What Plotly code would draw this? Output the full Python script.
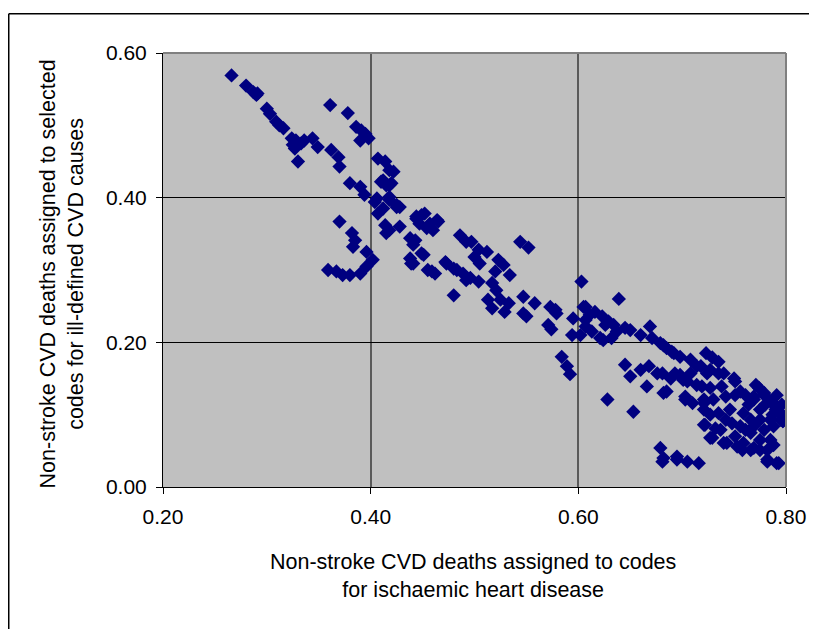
import plotly.graph_objects as go

# Non-stroke CVD deaths assigned to codes for ischaemic heart disease (x)
ihd_share = [
    0.266, 0.280, 0.287, 0.290, 0.291, 0.300, 0.303, 0.309, 0.312, 0.316,
    0.328, 0.327, 0.330, 0.336, 0.344, 0.349, 0.362, 0.369, 0.370, 0.324,
    0.325, 0.333,
    0.361, 0.378, 0.386, 0.391, 0.398, 0.390, 0.407, 0.414, 0.422, 0.410,
    0.418, 0.380, 0.390, 0.394, 0.406, 0.418, 0.418, 0.412, 0.404, 0.428,
    0.425, 0.395,
    0.420, 0.415, 0.418, 0.425, 0.407, 0.412, 0.370, 0.382, 0.385, 0.383,
    0.396, 0.402, 0.396, 0.390, 0.380, 0.373, 0.367, 0.359, 0.414, 0.418,
    0.428, 0.415, 0.438, 0.441, 0.438, 0.439, 0.451, 0.455, 0.462, 0.444,
    0.452, 0.464, 0.454, 0.447, 0.486, 0.492, 0.473, 0.483, 0.492,
    0.449, 0.457, 0.465, 0.460, 0.444, 0.443, 0.449, 0.441, 0.459, 0.497,
    0.504, 0.512, 0.500, 0.505, 0.472, 0.480, 0.489, 0.496, 0.504, 0.523,
    0.528, 0.520, 0.534, 0.517, 0.521, 0.513, 0.525, 0.533, 0.517, 0.529,
    0.547, 0.558, 0.550, 0.547, 0.573, 0.579, 0.595, 0.571, 0.480, 0.544,
    0.552, 0.603, 0.605, 0.607,
    0.584, 0.589, 0.592, 0.628, 0.653, 0.639, 0.578, 0.574, 0.594,
    0.607, 0.611, 0.623, 0.629, 0.634, 0.645, 0.650, 0.660, 0.669, 0.671,
    0.679, 0.685, 0.692, 0.698, 0.613, 0.602, 0.621, 0.624, 0.632, 0.637,
    0.645, 0.650, 0.660, 0.668, 0.676, 0.666, 0.682, 0.689, 0.698, 0.705,
    0.718, 0.703, 0.719, 0.721, 0.722, 0.679, 0.681, 0.695, 0.705, 0.716,
    0.616, 0.626, 0.607,
    0.682, 0.690, 0.681, 0.685, 0.693, 0.701, 0.708, 0.724, 0.735, 0.703,
    0.710, 0.714, 0.727, 0.738, 0.751, 0.756, 0.721, 0.730, 0.742, 0.721,
    0.727, 0.735, 0.746, 0.759, 0.769, 0.779, 0.788, 0.775, 0.787, 0.795,
    0.797, 0.721, 0.732, 0.748, 0.756, 0.769, 0.779, 0.788, 0.729, 0.743,
    0.751, 0.759, 0.766, 0.775, 0.785, 0.758, 0.769, 0.775, 0.782, 0.788,
    0.682, 0.695, 0.782, 0.793,
    0.714, 0.727, 0.740, 0.750, 0.769, 0.779, 0.785, 0.795, 0.797, 0.727,
    0.740, 0.753, 0.766, 0.782, 0.791,
    0.761, 0.771, 0.780, 0.790, 0.785, 0.766, 0.775, 0.761, 0.742, 0.737,
    0.723, 0.729, 0.735, 0.708, 0.751, 0.764, 0.774, 0.791, 0.796,
]

# Non-stroke CVD deaths assigned to selected codes for ill-defined CVD causes (y)
illdef_share = [
    0.569, 0.555, 0.546, 0.542, 0.544, 0.523, 0.516, 0.505, 0.500, 0.496,
    0.479, 0.468, 0.450, 0.479, 0.482, 0.470, 0.466, 0.456, 0.443, 0.482,
    0.473, 0.475,
    0.528, 0.517, 0.498, 0.493, 0.482, 0.479, 0.454, 0.450, 0.436, 0.422,
    0.417, 0.420, 0.415, 0.404, 0.399, 0.401, 0.438, 0.424, 0.394, 0.387,
    0.390, 0.488,
    0.420, 0.417, 0.397, 0.387, 0.378, 0.385, 0.367, 0.351, 0.341, 0.332,
    0.325, 0.314, 0.305, 0.295, 0.293, 0.293, 0.298, 0.300, 0.362, 0.355,
    0.360, 0.351, 0.344, 0.335, 0.316, 0.309, 0.321, 0.300, 0.295, 0.374,
    0.378, 0.369, 0.358, 0.364, 0.348, 0.339, 0.309, 0.300, 0.286,
    0.376, 0.364, 0.367, 0.355, 0.371, 0.341, 0.323, 0.309, 0.298, 0.339,
    0.328, 0.325, 0.318, 0.309, 0.311, 0.302, 0.295, 0.289, 0.284, 0.314,
    0.307, 0.298, 0.293, 0.282, 0.272, 0.259, 0.259, 0.254, 0.247, 0.242,
    0.263, 0.254, 0.236, 0.240, 0.249, 0.240, 0.233, 0.224, 0.265, 0.339,
    0.331, 0.284, 0.249, 0.222,
    0.180, 0.167, 0.156, 0.121, 0.104, 0.260, 0.245, 0.218, 0.210,
    0.249, 0.238, 0.236, 0.229, 0.224, 0.220, 0.217, 0.210, 0.222, 0.206,
    0.199, 0.192, 0.185, 0.180, 0.215, 0.210, 0.206, 0.203, 0.206, 0.215,
    0.169, 0.153, 0.162, 0.167, 0.157, 0.139, 0.130, 0.150, 0.155, 0.146,
    0.167, 0.121, 0.139, 0.116, 0.086, 0.054, 0.035, 0.038, 0.035, 0.033,
    0.242, 0.224, 0.231,
    0.196, 0.187, 0.157, 0.132, 0.157, 0.148, 0.157, 0.157, 0.157, 0.125,
    0.116, 0.141, 0.137, 0.139, 0.146, 0.132, 0.121, 0.121, 0.125, 0.107,
    0.100, 0.102, 0.107, 0.102, 0.121, 0.127, 0.116, 0.107, 0.100, 0.093,
    0.091, 0.086, 0.081, 0.088, 0.084, 0.084, 0.079, 0.084, 0.068, 0.061,
    0.070, 0.061, 0.075, 0.065, 0.065, 0.051, 0.054, 0.051, 0.051, 0.058,
    0.040, 0.042, 0.035, 0.033,
    0.167, 0.162, 0.157, 0.150, 0.125, 0.130, 0.118, 0.102, 0.091, 0.068,
    0.061, 0.056, 0.051, 0.038, 0.033,
    0.127, 0.141, 0.114, 0.107, 0.093, 0.093, 0.093, 0.079, 0.093, 0.079,
    0.185, 0.179, 0.173, 0.176, 0.127, 0.114, 0.137, 0.127, 0.114,
]

x_ticks = [0.20, 0.40, 0.60, 0.80]
y_ticks = [0.00, 0.20, 0.40, 0.60]

x_title = "Non-stroke CVD deaths assigned to codes<br>for ischaemic heart disease"
y_title = "Non-stroke CVD deaths assigned to selected<br>codes for ill-defined CVD causes"

FONT = "Liberation Sans, Arial, sans-serif"

fig = go.Figure()
fig.add_trace(go.Scatter(
    x=ihd_share, y=illdef_share, mode="markers",
    marker=dict(symbol="diamond", size=11, color="#000080", line=dict(width=0)),
    showlegend=False, hoverinfo="x+y",
))

fig.update_layout(
    width=809, height=621,
    margin=dict(l=155, r=31, t=45, b=142),
    paper_bgcolor="white", plot_bgcolor="#C0C0C0",
    font=dict(family=FONT, size=21, color="black"),
    xaxis=dict(
        range=[0.2, 0.8], tickvals=x_ticks, tickformat=".2f",
        ticks="outside", ticklen=6, tickcolor="black", tickwidth=1,
        showline=True, linecolor="black", linewidth=1,
        showgrid=True, gridcolor="#5a5a5a", gridwidth=2,
        zeroline=False, tickfont=dict(size=21), ticklabelstandoff=5,
    ),
    yaxis=dict(
        range=[0.0, 0.6], tickvals=y_ticks, tickformat=".2f",
        ticks="outside", ticklen=6, tickcolor="black", tickwidth=1,
        showline=True, linecolor="black", linewidth=1,
        showgrid=True, gridcolor="black", gridwidth=1,
        zeroline=False, tickfont=dict(size=21), ticklabelstandoff=5,
    ),
    shapes=[
        # plot-area frame on top and right
        dict(type="line", xref="paper", yref="paper", x0=0, x1=1, y0=1, y1=1,
             line=dict(color="#808080", width=2)),
        dict(type="line", xref="paper", yref="paper", x0=1, x1=1, y0=0, y1=1,
             line=dict(color="#808080", width=2)),
        # chart-area border
        dict(type="line", xref="paper", yref="paper", x0=-0.2476, x1=1.1, y0=1.0902, y1=1.0902,
             line=dict(color="black", width=1.5)),
        dict(type="line", xref="paper", yref="paper", x0=-0.2476, x1=-0.2476, y0=1.0902, y1=-0.4,
             line=dict(color="black", width=1.5)),
    ],
    annotations=[
        dict(text=x_title, xref="paper", yref="paper", x=0.4976, y=-0.204,
             xanchor="center", yanchor="middle", showarrow=False,
             font=dict(size=21.5, family=FONT, color="black")),
        dict(text=y_title, xref="paper", yref="paper", x=-0.162, y=0.49,
             xanchor="center", yanchor="middle", showarrow=False, textangle=-90,
             font=dict(size=21.5, family=FONT, color="black")),
    ],
)

fig.write_html("out.html")
